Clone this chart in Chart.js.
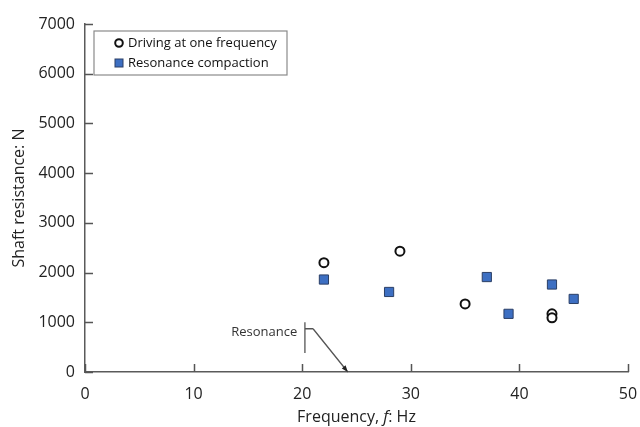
<!DOCTYPE html>
<html>
<head>
<meta charset="utf-8">
<script src="https://cdn.jsdelivr.net/npm/chart.js@4/dist/chart.umd.min.js"></script>
<style>
  html, body { margin: 0; padding: 0; background: #fff; }
  #wrap { width: 640px; height: 427px; }
</style>
</head>
<body>
<div id="wrap"><canvas id="chart" width="640" height="427"></canvas></div>
<script>
// values
const drivingFreq = [22, 29, 35, 43, 43];
const drivingResist = [2200, 2430, 1370, 1170, 1090];
const resonanceFreq = [22, 28, 37, 39, 43, 45];
const resonanceResist = [1860, 1610, 1910, 1170, 1760, 1470];
const xTicks = [0, 10, 20, 30, 40, 50];
const yTicks = [0, 1000, 2000, 3000, 4000, 5000, 6000, 7000];
const seriesNames = ["Driving at one frequency", "Resonance compaction"];
// x title, the f is set in italic
const xTitleParts = [["Frequency, ", false], ["f", true], [": Hz", false]];
// resonance marker, in data units: bracket line and arrow
const bracketLine = [[20.25, 1000], [20.25, 380]];
const bracketArm = [[20.25, 870], [21, 870]];
const arrowLine = [[21, 870], [24.2, 0]];
const noteText = "Resonance";
const notePos = [19.55, 800];

const axisColor = "#5a5a5a";
const font = "'Open Sans', sans-serif";

const toPts = (xs, ys) => xs.map((x, i) => ({ x: x, y: ys[i] }));

// inward ticks, legend box, x title and the resonance note
const extras = {
  id: "extras",
  afterDraw(chart) {
    const ctx = chart.ctx;
    const xs = chart.scales.x, ys = chart.scales.y;
    const area = chart.chartArea;
    const px = p => [xs.getPixelForValue(p[0]), ys.getPixelForValue(p[1])];
    ctx.save();

    ctx.strokeStyle = "#555";
    ctx.lineWidth = 1.5;
    ctx.beginPath();
    xTicks.forEach(v => {
      const x = Math.round(xs.getPixelForValue(v)) + 0.5;
      ctx.moveTo(x, area.bottom);
      ctx.lineTo(x, area.bottom - 8);
    });
    yTicks.forEach(v => {
      const y = Math.round(ys.getPixelForValue(v)) + 0.5;
      ctx.moveTo(area.left, y);
      ctx.lineTo(area.left + 8, y);
    });
    ctx.stroke();

    // x title
    ctx.fillStyle = "#222";
    ctx.textBaseline = "alphabetic";
    ctx.textAlign = "left";
    const fnt = it => (it ? "italic " : "") + "16px " + font;
    let total = 0;
    xTitleParts.forEach(p => { ctx.font = fnt(p[1]); total += ctx.measureText(p[0]).width; });
    let tx = (area.left + area.right) / 2 - total / 2;
    xTitleParts.forEach(p => {
      ctx.font = fnt(p[1]);
      ctx.fillText(p[0], tx, 422);
      tx += ctx.measureText(p[0]).width;
    });

    // resonance note
    ctx.strokeStyle = "#555";
    ctx.lineWidth = 1.3;
    ctx.beginPath();
    [bracketLine, bracketArm, arrowLine].forEach(seg => {
      const a = px(seg[0]), b = px(seg[1]);
      ctx.moveTo(a[0], a[1]);
      ctx.lineTo(b[0], b[1]);
    });
    ctx.stroke();
    const a = px(arrowLine[0]), b = px(arrowLine[1]);
    const ang = Math.atan2(b[1] - a[1], b[0] - a[0]);
    ctx.fillStyle = "#222";
    ctx.beginPath();
    ctx.moveTo(b[0], b[1]);
    ctx.lineTo(b[0] - 7 * Math.cos(ang - 0.35), b[1] - 7 * Math.sin(ang - 0.35));
    ctx.lineTo(b[0] - 7 * Math.cos(ang + 0.35), b[1] - 7 * Math.sin(ang + 0.35));
    ctx.closePath();
    ctx.fill();
    const n = px(notePos);
    ctx.fillStyle = "#333";
    ctx.font = "13px " + font;
    ctx.textAlign = "right";
    ctx.textBaseline = "middle";
    ctx.fillText(noteText, n[0], n[1]);

    // legend
    const lx = area.left + 9, ly = area.top + 7;
    ctx.strokeStyle = "#8a8a8a";
    ctx.lineWidth = 1.2;
    ctx.fillStyle = "#fff";
    ctx.fillRect(lx, ly, 193, 44);
    ctx.strokeRect(lx, ly, 193, 44);
    ctx.font = "13px " + font;
    ctx.textAlign = "left";
    ctx.fillStyle = "#111";
    ctx.fillText(seriesNames[0], lx + 34, ly + 12);
    ctx.fillText(seriesNames[1], lx + 34, ly + 32);
    ctx.beginPath();
    ctx.arc(lx + 25, ly + 12, 3.8, 0, Math.PI * 2);
    ctx.lineWidth = 2;
    ctx.strokeStyle = "#111";
    ctx.stroke();
    ctx.fillStyle = "#3d6fc2";
    ctx.fillRect(lx + 21, ly + 28, 8, 8);
    ctx.strokeStyle = "#2b3f66";
    ctx.lineWidth = 1;
    ctx.strokeRect(lx + 21, ly + 28, 8, 8);
    ctx.restore();
  }
};

new Chart(document.getElementById("chart"), {
  type: "scatter",
  data: {
    datasets: [
      {
        label: seriesNames[0],
        data: toPts(drivingFreq, drivingResist),
        pointStyle: "circle",
        pointRadius: 4.5,
        pointHoverRadius: 4.5,
        borderWidth: 2,
        borderColor: "#111",
        backgroundColor: "#fff"
      },
      {
        label: seriesNames[1],
        data: toPts(resonanceFreq, resonanceResist),
        pointStyle: "rect",
        pointRadius: 6.5,
        pointHoverRadius: 6.5,
        borderWidth: 1,
        borderColor: "#2b3f66",
        backgroundColor: "#3d6fc2"
      }
    ]
  },
  options: {
    responsive: false,
    animation: false,
    layout: { padding: { top: 24, right: 12, left: 0, bottom: 0 } },
    plugins: {
      legend: { display: false },
      tooltip: { enabled: false }
    },
    scales: {
      x: {
        type: "linear",
        min: 0,
        max: 50,
        afterFit: s => {
          s.height = 55;
          s.paddingLeft = 0;
          s.paddingRight = 0;
        },
        afterBuildTicks: s => { s.ticks = xTicks.map(v => ({ value: v })); },
        grid: { display: false },
        border: { display: true, color: axisColor, width: 1.5 },
        ticks: {
          color: "#222",
          padding: 5,
          font: { family: font, size: 16 },
          callback: v => String(v)
        }
      },
      y: {
        type: "linear",
        min: 0,
        max: 7000,
        afterFit: s => {
          s.width = 85;
          s.paddingTop = 0;
          s.paddingBottom = 0;
        },
        afterBuildTicks: s => { s.ticks = yTicks.map(v => ({ value: v })); },
        grid: { display: false },
        border: { display: true, color: axisColor, width: 1.5 },
        ticks: {
          color: "#222",
          padding: 2,
          font: { family: font, size: 16 },
          callback: v => String(v)
        },
        title: {
          display: true,
          text: "Shaft resistance: N",
          color: "#222",
          padding: { top: 10, bottom: 0 },
          font: { family: font, size: 16 }
        }
      }
    }
  },
  plugins: [extras]
});
</script>
</body>
</html>
